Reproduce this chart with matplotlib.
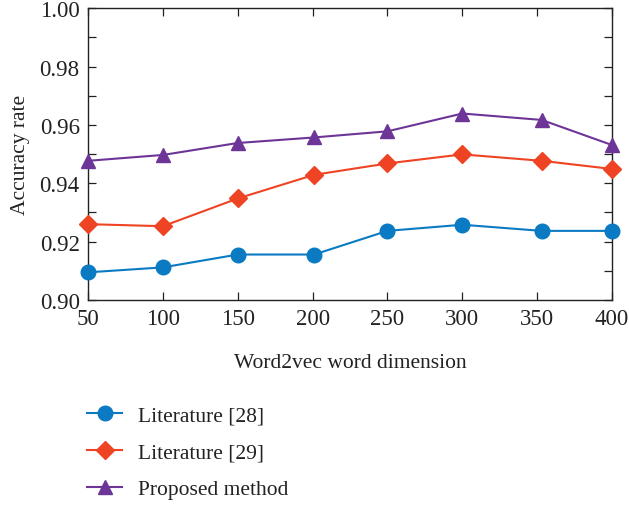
import matplotlib
matplotlib.use('Agg')
import matplotlib.pyplot as plt
from matplotlib.ticker import MultipleLocator, FuncFormatter

# data
dims = [50, 100, 150, 201, 250, 300, 353, 400]
lit28 = [0.9095, 0.9112, 0.9156, 0.9156, 0.9237, 0.9258, 0.9237, 0.9237]
lit29 = [0.9260, 0.9253, 0.9348, 0.9429, 0.9468, 0.9499, 0.9477, 0.9449]
proposed = [0.9477, 0.9497, 0.9538, 0.9557, 0.9578, 0.9639, 0.9617, 0.9531]

plt.rcParams['font.family'] = ['Liberation Serif', 'DejaVu Serif']

fig = plt.figure(figsize=(6.29, 5.06), dpi=100)
ax = fig.add_axes([0.140, 0.405, 0.833, 0.577])

l1, = ax.plot(dims, lit28, color='#0a7ac2', marker='o', markersize=10.5, lw=1.5,
              label='Literature [28]', clip_on=False, zorder=3)
l2, = ax.plot(dims, lit29, color='#ef4423', marker='D', markersize=9.5, lw=1.5,
              label='Literature [29]', clip_on=False, zorder=3)
l3, = ax.plot(dims, proposed, color='#6d3597', marker='^', markersize=10, lw=1.5,
              label='Proposed method', clip_on=False, zorder=3)

ax.set_xlim(50, 400)
ax.set_ylim(0.90, 1.00)
ax.xaxis.set_major_locator(MultipleLocator(50))
ax.yaxis.set_major_locator(MultipleLocator(0.01))

def every_other(v, pos):
    k = int(round(v * 100))
    return '{:.2f}'.format(v) if k % 2 == 0 else ''
ax.yaxis.set_major_formatter(FuncFormatter(every_other))

ax.tick_params(direction='in', top=True, right=True, length=6, width=0.9,
               labelsize=16.5, colors='#222222', pad=6)
for s in ax.spines.values():
    s.set_linewidth(1.0)
    s.set_color('#222222')

ax.set_xlabel('Word2vec word dimension', fontsize=15.5, color='#222222', labelpad=17)
ax.set_ylabel('Accuracy rate', fontsize=15.5, color='#222222', labelpad=7)

fig.legend(handles=[l1, l2, l3], loc='upper left', bbox_to_anchor=(0.139, 0.197),
           frameon=False, fontsize=15.5, handlelength=1.6, labelspacing=0.78,
           handletextpad=0.75, borderaxespad=0, borderpad=0, labelcolor='#222222')

fig.savefig('out.png', dpi=100)
